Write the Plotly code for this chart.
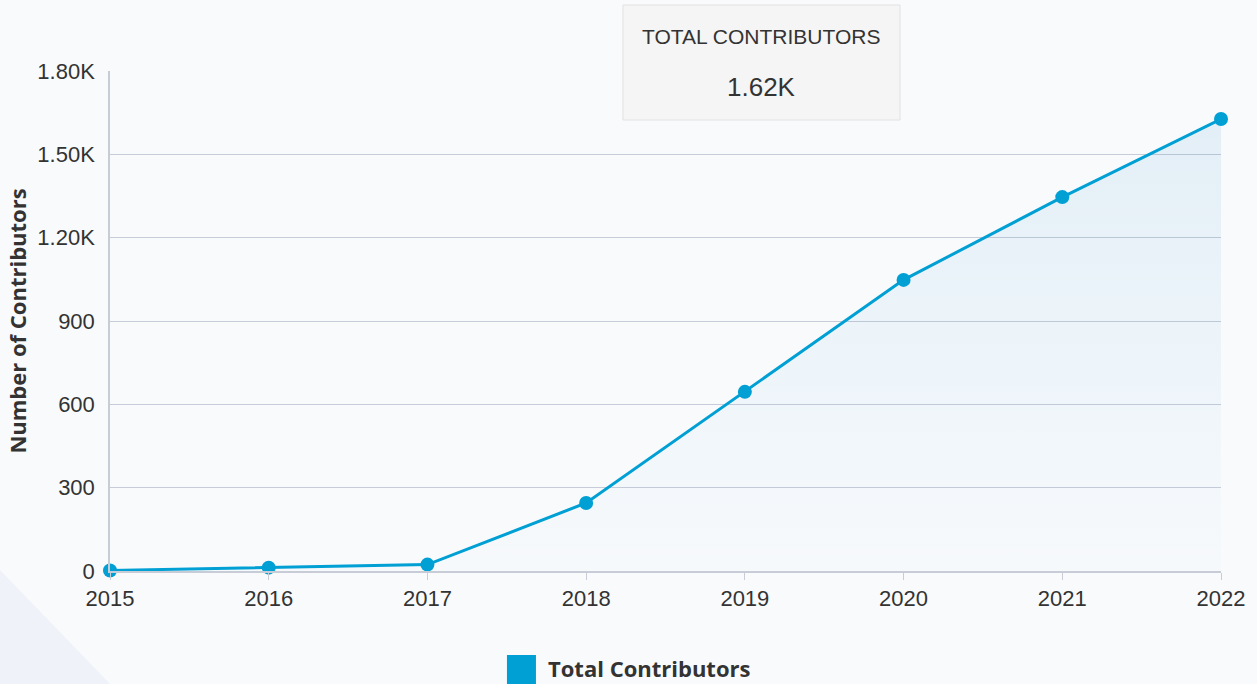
import plotly.graph_objects as go

years = [2015, 2016, 2017, 2018, 2019, 2020, 2021, 2022]
contributors = [2, 12, 23, 245, 645, 1048, 1346, 1627]
y_tickvals = [0, 300, 600, 900, 1200, 1500, 1800]
y_ticktext = ["0", "300", "600", "900", "1.20K", "1.50K", "1.80K"]
tooltip_title = "TOTAL CONTRIBUTORS"
tooltip_value = "1.62K"
legend_label = "Total Contributors"

blue = '#009FD4'
bg = '#F9FAFC'
text_color = '#333333'

fig = go.Figure()

fig.add_trace(go.Scatter(x = years, y = contributors, mode = 'lines+markers', name = legend_label,
    line = dict(color = blue, width = 3), marker = dict(color = blue, size = 14),
    fill = 'tozeroy', fillgradient = dict(type = 'vertical', colorscale = [[0, 'rgba(0,159,212,0.01)'], [1, 'rgba(0,120,190,0.09)']]),
    cliponaxis = False, showlegend = False))

# light triangle decoration bottom-left
fig.add_shape(type = 'path', xref = 'paper', yref = 'paper', path = "M -0.099 0.002 L 0.0 -0.226 L -0.099 -0.226 Z",
    fillcolor = '#EFF2F9', line = dict(width = 0), layer = 'below')

# tooltip box
fig.add_shape(type = 'rect', xref = 'paper', yref = 'paper', x0 = 0.4617, x1 = 0.7111, y0 = 0.902, y1 = 1.132,
    fillcolor = 'rgba(245,245,245,0.96)', line = dict(color = '#E2E2E2', width = 1), layer = 'above')
fig.add_annotation(xref = 'paper', yref = 'paper', x = 0.586, y = 1.068, xanchor = 'center', yanchor = 'middle',
    text = tooltip_title, showarrow = False, font = dict(family = 'Liberation Sans, Arial', size = 21, color = text_color))
fig.add_annotation(xref = 'paper', yref = 'paper', x = 0.586, y = 0.968, xanchor = 'center', yanchor = 'middle',
    text = tooltip_value, showarrow = False, font = dict(family = 'Liberation Sans, Arial', size = 26, color = text_color))

# legend: square swatch + label
fig.add_shape(type = 'rect', xref = 'paper', yref = 'paper', x0 = 0.3573, x1 = 0.3834, y0 = -0.232, y1 = -0.168,
    fillcolor = blue, line = dict(width = 0))
fig.add_annotation(xref = 'paper', yref = 'paper', x = 0.3924, y = -0.194, xanchor = 'left', yanchor = 'middle',
    text = "<b>" + legend_label + "</b>", showarrow = False, font = dict(family = 'Open Sans', size = 22, color = text_color))

fig.update_layout(width = 1257, height = 684, autosize = False, paper_bgcolor = bg, plot_bgcolor = bg,
    margin = dict(l = 110, r = 36, t = 71, b = 113), showlegend = False,
    font = dict(family = 'Liberation Sans, Arial', size = 22, color = text_color))

fig.update_xaxes(range = [2015, 2022], tickvals = years, showgrid = False, zeroline = False, showline = True,
    linecolor = '#C8CCD6', linewidth = 1.5, ticks = 'outside', ticklen = 7, tickcolor = '#C8CCD6',
    tickfont = dict(size = 22, color = text_color))
fig.update_yaxes(range = [0, 1800], tickvals = y_tickvals, ticktext = y_ticktext, showgrid = True, gridcolor = '#C8CCD8',
    gridwidth = 1.2, zeroline = False, showline = True, linecolor = '#C8CCD6', linewidth = 1.5, ticks = '',
    tickfont = dict(size = 22, color = text_color), ticklabelstandoff = 9,
    title = dict(text = "Number of Contributors", font = dict(family = 'Open Sans', size = 22, color = text_color, weight = 'bold'), standoff = 5))

fig.write_html("out.html", config = {'displayModeBar': False},
    post_script = "document.body.style.margin = '0'; document.body.style.background = '" + bg + "';")
